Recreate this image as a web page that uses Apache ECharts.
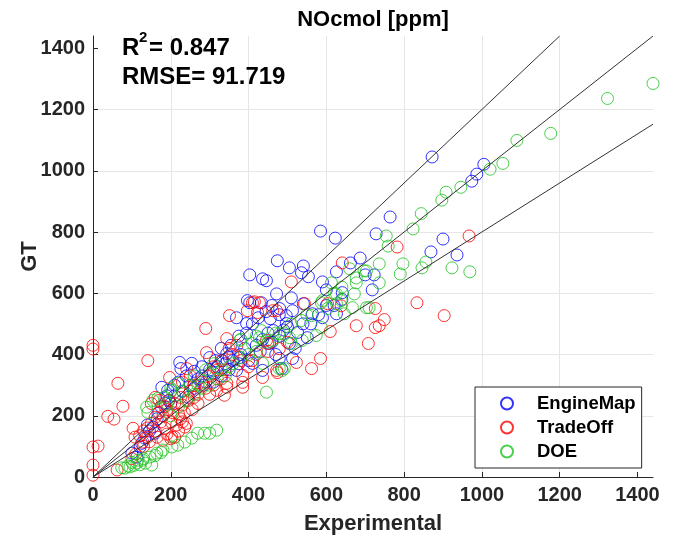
<!DOCTYPE html>
<html>
<head>
<meta charset="utf-8">
<script src="https://cdn.jsdelivr.net/npm/echarts@6/dist/echarts.min.js"></script>
<style>
  html, body { margin: 0; padding: 0; background: #fff; }
  #chart { width: 678px; height: 542px; }
</style>
</head>
<body>
<div id="chart"></div>
<script>
const seriesNames = ['EngineMap', 'TradeOff', 'DOE']
const tickValues = [0, 200, 400, 600, 800, 1000, 1200, 1400]

const engineMap = [
  [872,1045],[1005,1021],[987,989],[974,966],[900,777],[869,735],[936,725],[764,849],[728,794],[723,660],[718,611],
  [585,803],[623,780],[687,715],[662,699],[626,670],[474,706],[505,683],[541,689],[536,667],[554,654],[403,660],[436,647],
  [590,637],[600,611],[641,602],[472,598],[510,585],[403,569],[433,569],[369,520],[456,517],[479,530],[497,527],[541,566],
  [513,543],[564,533],[626,533],[590,520],[395,501],[464,478],[497,501],[526,472],[551,455],[436,449],[505,436],[454,436],
  [223,374],[254,371],[226,354],[344,403],[333,380],[315,380],[377,390],[410,371],[369,348],[436,348],[485,354],[479,387],[513,387],
  [177,293],[192,283],[167,208],[154,163],[133,127],[121,98],[100,78],[113,65],[185,241],[159,143],
  [200,240],[210,265],[230,280],[250,300],[260,290],[270,320],[280,330],[290,310],[300,350],[310,340],[320,360],[340,370],
  [350,390],[360,380],[380,400],[390,420],[400,380],[420,430],[430,410],[450,470],[460,440],[470,400],[480,460],[490,480],
  [500,490],[520,420],[540,500],[560,500],[580,530],[600,560],[620,560],[640,580],[700,660],
  [397,576],[446,641],[140,170],[175,230],[195,250],[165,190],[145,150],[125,110],[210,300],[240,330],[190,265],[220,310],
  [260,345],[280,360],[300,390],[330,420],[355,430],[375,460],[395,470],[410,500],[425,520],[445,540],[460,560],[480,550],
  [330,330],[310,310],[285,300],[350,350],[375,370],[245,260]
]

const tradeOff = [
  [0,430],[0,418],[0,98],[13,101],[0,39],[0,6],[64,306],[77,231],[38,198],[54,189],[103,159],[62,23],
  [141,380],[290,485],[351,527],[292,406],[344,452],[397,543],[415,572],[410,569],[472,543],[510,637],[641,699],[544,566],
  [523,374],[562,354],[585,387],[610,475],[677,494],[726,488],[708,436],[726,550],[446,446],[410,380],[436,325],[472,348],
  [385,332],[344,306],[782,751],[967,787],[833,569],[903,527],[749,514],[736,494],
  [603,566],[638,559],[428,569],[462,543],[449,436],[479,419],[474,341],[385,293],[385,309],[344,293],[338,267],[318,283],
  [423,537],[197,325],[241,354],[108,130],[128,114],[203,130],[220,150],[236,163],
  [120,135],[130,150],[140,160],[150,175],[160,195],[170,210],[175,180],[180,200],[185,230],[190,220],[195,250],[200,180],
  [205,210],[210,240],[215,170],[220,205],[225,190],[230,235],[235,210],[240,175],[245,250],[250,280],[260,300],[270,270],
  [280,310],[290,290],[300,330],[310,300],[320,350],[330,320],[150,240],[160,260],[170,250],[230,310],[250,330],[200,125],
  [210,130],[180,120],[190,140],[100,60],[110,75],[130,100],[145,115],[165,130],
  [380,380],[400,360],[360,400],[420,400],[450,410],[500,440],[340,350],[300,270],[270,240],[255,220],[225,260],[185,160],
  [160,150],[140,130],[230,180],[260,260],[350,420],[370,430],[310,360],[330,380]
]

const doe = [
  [1440,1285],[1323,1236],[1177,1122],[1090,1099],[1054,1024],[1021,1005],[946,946],[908,930],[897,904],[844,860],[823,810],
  [754,787],[759,754],[797,696],[790,663],[856,702],[846,683],[923,683],[969,670],[736,696],[736,634],[710,553],
  [697,673],[677,634],[613,634],[626,598],[667,553],[703,553],[646,533],[626,566],[590,576],[603,550],[562,527],[536,511],
  [587,488],[574,462],[538,446],[510,436],[492,468],[433,478],[462,446],[492,354],[436,371],[587,569],[672,598],[703,673],
  [677,650],[638,576],[505,455],[479,468],[428,455],[410,436],[377,446],[479,354],[446,277],[487,348],
  [318,153],[300,143],[287,143],[269,143],[254,127],[236,114],[218,104],[203,98],[180,88],[164,78],[146,65],[128,55],
  [113,46],[95,33],[82,29],
  [74,30],[90,36],[105,38],[120,40],[135,45],[151,39],[100,48],[115,55],[130,60],[160,70],[175,80],
  [141,211],[154,250],[167,257],[185,260],[203,283],[218,306],[138,228],[190,240],
  [200,200],[220,230],[240,250],[260,270],[280,290],[300,300],[320,320],[340,330],[360,370],[380,390],[400,400],[420,410],
  [300,340],[330,350],[350,360],[270,300],[250,300],[230,280],[200,290],[290,350],[310,370],[260,330],[380,450],[420,460],
  [450,440],[470,470],[510,500],[550,530],[620,600],[640,620],[660,680]
]

// reference lines from origin: +20%, 1:1, -20%
const refLineEnds = [[1200, 1440], [1440, 1440], [1440, 1152]]

const colors = ['#0000ff', '#ff0000', '#1ec31e']
const font = 'Liberation Sans'

const scatter = (name, data, color) => ({
  name: name,
  type: 'scatter',
  data: data,
  symbol: 'circle',
  symbolSize: 12,
  itemStyle: { color: 'rgba(0,0,0,0)', borderColor: color, borderWidth: 1 },
  emphasis: { disabled: true },
  z: 2
})

const axisCommon = {
  type: 'value',
  min: 0,
  max: 1440,
  interval: 200,
  nameLocation: 'middle',
  nameMoveOverlap: false,
  nameTextStyle: { fontFamily: font, fontWeight: 'bold', fontSize: 22, color: '#262626' },
  axisLine: { show: true, onZero: false, lineStyle: { color: '#262626', width: 1 } },
  axisTick: { show: true, inside: true, length: 5, customValues: tickValues, lineStyle: { color: '#262626' } },
  axisLabel: {
    customValues: tickValues,
    formatter: v => String(v),
    fontFamily: font, fontWeight: 'bold', fontSize: 20, color: '#262626', margin: 8
  },
  splitLine: { show: true, showMaxLine: false, lineStyle: { color: '#e6e6e6', width: 1 } }
}

const txt = (text, x, y, size, extra) => ({
  type: 'text',
  z: 100,
  style: Object.assign({ text: text, x: x, y: y, textVerticalAlign: 'middle', font: 'bold ' + size + 'px "Liberation Sans"', fill: '#000' }, extra || {})
})

const chart = echarts.init(document.getElementById('chart'))
chart.setOption({
  animation: false,
  backgroundColor: '#fff',
  grid: { left: 93, right: 25, top: 36, bottom: 65 },
  xAxis: Object.assign({}, axisCommon, { name: 'Experimental', nameGap: 36 }),
  yAxis: Object.assign({}, axisCommon, { name: 'GT', nameGap: 52 }),
  legend: {
    data: seriesNames,
    orient: 'vertical',
    left: 475,
    top: 387,
    icon: 'circle',
    itemWidth: 50,
    itemHeight: 12,
    itemGap: 5,
    padding: [7, 6, 7, 25],
    borderColor: '#262626',
    borderWidth: 1,
    backgroundColor: '#fff',
    textStyle: { fontFamily: font, fontWeight: 'bold', fontSize: 18.5, color: '#000' }
  },
  graphic: [
    txt('NOcmol [ppm]', 373, 20, 22, { textAlign: 'center' }),
    txt('R', 122, 48, 24),
    txt('2', 139, 38, 15),
    txt('= 0.847', 149, 48, 24),
    txt('RMSE= 91.719', 122, 77, 24)
  ],
  series: [
    scatter(seriesNames[0], engineMap, colors[0]),
    scatter(seriesNames[1], tradeOff, colors[1]),
    scatter(seriesNames[2], doe, colors[2])
  ].concat(refLineEnds.map(end => ({
    type: 'line',
    data: [[0, 0], end],
    symbol: 'none',
    lineStyle: { color: '#333', width: 1 },
    emphasis: { disabled: true },
    silent: true,
    z: 3
  })))
})
</script>
</body>
</html>
